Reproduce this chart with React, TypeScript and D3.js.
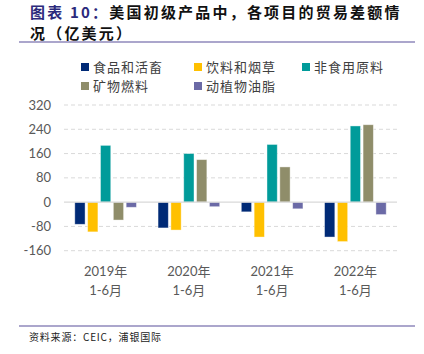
import React from "react";
import { scaleBand, scaleLinear } from "d3";

const periods = ["2019年|1-6月", "2020年|1-6月", "2021年|1-6月", "2022年|1-6月"];
const seriesNames = ["食品和活畜", "饮料和烟草", "非食用原料", "矿物燃料", "动植物油脂"];
const seriesColors = ["#002A76", "#FFC000", "#009B9A", "#8F8D6A", "#6B6AA6"];
const food = [-73, -85, -32, -115];
const beverage = [-98, -92, -115, -130];
const crude = [187, 160, 190, 251];
const fuels = [-59, 140, 116, 255];
const oils = [-17, -15, -22, -41];
const yTicks = [-160, -80, 0, 80, 160, 240, 320];

const values = [food, beverage, crude, fuels, oils];

const W = 424;
const H = 354;
const cjk = "'Noto Sans CJK SC', sans-serif";
const latin = "Lato, 'Noto Sans CJK SC', sans-serif";

export default function App() {
  // Scales
  const x = scaleBand().domain(periods).range([64, 397]).padding(0);
  const inner = scaleBand()
    .domain(seriesNames)
    .range([10.8, x.bandwidth() - 10.8])
    .paddingInner(0.2);
  const y = scaleLinear().domain([-160, 320]).range([250.7, 105]);

  const legendPos = [
    [81, 67],
    [194, 67],
    [302, 67],
    [81, 86],
    [194, 86],
  ];

  return (
    <div style={{ position: "absolute", left: 0, top: 0 }}>
      <svg width={W} height={H} style={{ display: "block", background: "#fff" }}>
        {/* Title */}
        <text x={30} y={17.6} fontFamily={cjk} fontWeight={700} fontSize={15} letterSpacing={2.2}>
          <tspan fill="#2C2A7C">图表 10：</tspan>
          <tspan fill="#111">美国初级产品中，各项目的贸易差额情</tspan>
        </text>
        <text x={30} y={39} fontFamily={cjk} fontWeight={700} fontSize={15} letterSpacing={2.2} fill="#111">
          况（亿美元）
        </text>
        <line x1={19} x2={415} y1={42} y2={42} stroke="#ABA6CC" strokeWidth={2} />

        {/* Legend */}
        {seriesNames.map((s, i) => (
          <g key={s} transform={`translate(${legendPos[i][0]},${legendPos[i][1]})`}>
            <rect x={0} y={-4} width={8} height={8} fill={seriesColors[i]} />
            <text x={12} y={0} dy="0.35em" fontFamily={cjk} fontSize={13} letterSpacing={1} fill="#404040">
              {s}
            </text>
          </g>
        ))}

        {/* Grid */}
        {yTicks.map((t) => (
          <g key={t}>
            {t !== 0 && (
              <line x1={64} x2={397} y1={y(t)} y2={y(t)} stroke="#D9D9D9" strokeDasharray="4,3" strokeWidth={1} />
            )}
            <text x={51} y={y(t)} dy="0.35em" textAnchor="end" fontFamily={latin} fontSize={13} fill="#595959">
              {t}
            </text>
          </g>
        ))}

        {/* Bars */}
        {periods.map((p, pi) => (
          <g key={p} transform={`translate(${x(p)},0)`}>
            {seriesNames.map((s, si) => {
              const v = values[si][pi];
              return (
                <rect
                  key={s}
                  x={inner(s)}
                  y={Math.min(y(v), y(0))}
                  width={inner.bandwidth()}
                  height={Math.abs(y(v) - y(0))}
                  fill={seriesColors[si]}
                  stroke="#ffffff"
                  strokeOpacity={0.5}
                  strokeWidth={0.8}
                />
              );
            })}
          </g>
        ))}
        <line x1={64} x2={397} y1={y(0)} y2={y(0)} stroke="#D9D9D9" strokeWidth={1.2} />

        {/* X labels */}
        {periods.map((p) => {
          const [a, b] = p.split("|");
          const cx = (x(p) ?? 0) + x.bandwidth() / 2;
          return (
            <g key={p}>
              <text x={cx} y={276} textAnchor="middle" fontFamily={latin} fontSize={13} fill="#595959">
                {a}
              </text>
              <text x={cx} y={295} textAnchor="middle" fontFamily={latin} fontSize={13} fill="#595959">
                {b}
              </text>
            </g>
          );
        })}

        {/* Footer */}
        <line x1={19} x2={415} y1={326} y2={326} stroke="#ABA6CC" strokeWidth={2} />
        <text x={29} y={341} fontFamily={cjk} fontSize={10} letterSpacing={0.8} fill="#222">
          资料来源：CEIC，浦银国际
        </text>
      </svg>
    </div>
  );
}
